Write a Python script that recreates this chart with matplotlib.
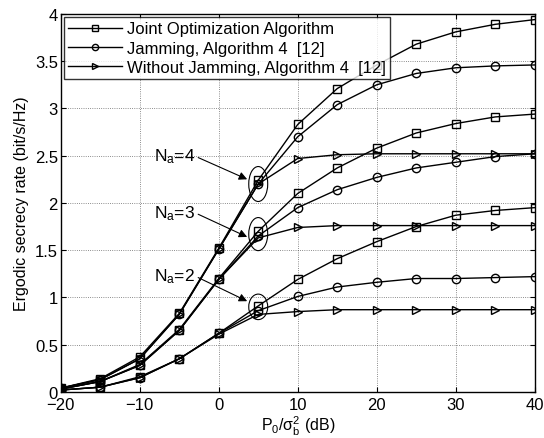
import numpy as np
import matplotlib
matplotlib.use("Agg")
import matplotlib.pyplot as plt
from matplotlib.patches import Ellipse

plt.rcParams['font.family'] = ['Liberation Sans', 'DejaVu Sans']
plt.rcParams['mathtext.fontset'] = 'custom'
plt.rcParams['mathtext.rm'] = 'Liberation Sans'
plt.rcParams['mathtext.it'] = 'Liberation Sans'
plt.rcParams['mathtext.default'] = 'regular'

snr = [-20, -15, -10, -5, 0, 5, 10, 15, 20, 25, 30, 35, 40]

# Na = 4
joint_4 = [0.04, 0.14, 0.37, 0.83, 1.52, 2.24, 2.83, 3.21, 3.46, 3.68, 3.81, 3.89, 3.94]
jam_4 = [0.04, 0.13, 0.35, 0.82, 1.51, 2.20, 2.70, 3.04, 3.25, 3.37, 3.43, 3.45, 3.46]
nojam_4 = [0.04, 0.13, 0.35, 0.82, 1.51, 2.20, 2.47, 2.51, 2.52, 2.52, 2.52, 2.52, 2.52]

# Na = 3
joint_3 = [0.03, 0.11, 0.29, 0.66, 1.20, 1.70, 2.10, 2.37, 2.58, 2.74, 2.84, 2.91, 2.94]
jam_3 = [0.03, 0.11, 0.28, 0.65, 1.19, 1.65, 1.95, 2.14, 2.27, 2.37, 2.43, 2.49, 2.52]
nojam_3 = [0.03, 0.11, 0.28, 0.65, 1.19, 1.63, 1.74, 1.76, 1.76, 1.76, 1.76, 1.76, 1.76]

# Na = 2
joint_2 = [0.02, 0.05, 0.16, 0.35, 0.62, 0.91, 1.19, 1.41, 1.59, 1.75, 1.87, 1.92, 1.95]
jam_2 = [0.02, 0.05, 0.15, 0.35, 0.62, 0.86, 1.01, 1.11, 1.16, 1.20, 1.20, 1.21, 1.22]
nojam_2 = [0.02, 0.05, 0.15, 0.35, 0.61, 0.82, 0.85, 0.87, 0.87, 0.87, 0.87, 0.87, 0.87]

labels = ['Joint Optimization Algorithm', 'Jamming, Algorithm 4  [12]',
          'Without Jamming, Algorithm 4  [12]']

fig = plt.figure(figsize=(5.44, 4.39), dpi=100)
ax = fig.add_axes([0.1116, 0.105, 0.8714, 0.861])

kw = dict(color='k', lw=1.0, markersize=6, markerfacecolor='none', markeredgewidth=1.0)
ax.plot(snr, joint_4, marker='s', label=labels[0], **kw)
ax.plot(snr, jam_4, marker='o', label=labels[1], **kw)
ax.plot(snr, nojam_4, marker='>', label=labels[2], **kw)
for ys, m in [(joint_3, 's'), (jam_3, 'o'), (nojam_3, '>'),
              (joint_2, 's'), (jam_2, 'o'), (nojam_2, '>')]:
    ax.plot(snr, ys, marker=m, **kw)

# annotations
for txt, ty, ey, eh, hy in [('4', 2.5, 2.2, 0.37, 2.25),
                            ('3', 1.9, 1.67, 0.35, 1.64),
                            ('2', 1.23, 0.9, 0.27, 0.96)]:
    ax.add_patch(Ellipse((5, ey), 2.4, eh, fill=False, ec='k', lw=0.8))
    ax.text(-8.2, ty, r'N$_{a}$=' + txt, fontsize=12.5, va='center', ha='left')
    ax.annotate('', xy=(3.6, hy), xytext=(-2.6, ty - 0.02),
                arrowprops=dict(arrowstyle='-|>', color='k', lw=0.8,
                                mutation_scale=12, shrinkA=0, shrinkB=0))

ax.set_xlim(-20, 40)
ax.set_ylim(0, 4)
ax.set_xticks([-20, -10, 0, 10, 20, 30, 40])
ax.set_yticks(np.arange(0, 4.01, 0.5))
ax.set_yticklabels(['0', '0.5', '1', '1.5', '2', '2.5', '3', '3.5', '4'])
ax.tick_params(direction='in', top=True, right=True, labelsize=12)
ax.tick_params(axis='x', pad=4)
ax.tick_params(axis='y', pad=2)
ax.grid(True, linestyle=':', color='k', lw=0.6, alpha=0.6)
for s in ax.spines.values():
    s.set_linewidth(1.0)

ax.set_xlabel(r'P$_0$/$\sigma_b^2$ (dB)', fontsize=11.5, labelpad=1)
ax.set_ylabel('Ergodic secrecy rate (bit/s/Hz)', fontsize=11.5)

leg = ax.legend(loc='upper left', fontsize=12, frameon=True, fancybox=False,
                edgecolor='k', borderaxespad=0.2, handlelength=3.2,
                handletextpad=0.35, markerscale=0.75,
                borderpad=0.25, labelspacing=0.25)
leg.get_frame().set_linewidth(1.0)

fig.savefig('out.png', dpi=100)
